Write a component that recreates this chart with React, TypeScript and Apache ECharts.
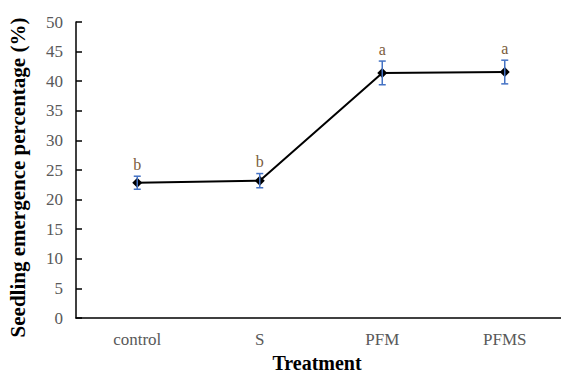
import React, { useEffect, useRef } from "react";
import * as echarts from "echarts";

const categories = ["control", "S", "PFM", "PFMS"];
const means = [22.85, 23.2, 41.4, 41.55];
const errors = [1.1, 1.2, 2.0, 2.0];
const letters = ["b", "b", "a", "a"];
const yTicks = { min: 0, max: 50, interval: 5 };

const serif = "Liberation Serif";

export default function App() {
  const ref = useRef<HTMLDivElement>(null);
  useEffect(() => {
    if (!ref.current) return;
    const chart = echarts.init(ref.current, undefined, { renderer: "svg" });
    const errData = categories.map((c, i) => [i, means[i], errors[i]]);
    chart.setOption({
      animation: false,
      grid: { left: 76, right: -5, top: 22, bottom: 56, containLabel: false, outerBoundsMode: "none" },
      xAxis: {
        type: "category",
        data: categories,
        boundaryGap: true,
        name: "Treatment",
        nameLocation: "middle",
        nameGap: 35,
        nameTextStyle: { fontFamily: serif, fontWeight: "bold", fontSize: 20, lineHeight: 18, color: "#000", padding: [0, 8, 0, 0] },
        axisLine: { lineStyle: { color: "#000", width: 1.5 } },
        axisTick: { inside: true, length: 5, lineStyle: { color: "#000", width: 1.5 } },
        axisLabel: { fontFamily: serif, fontSize: 17, color: "#595959", margin: 13 },
        splitLine: { show: false },
      },
      yAxis: {
        type: "value",
        min: yTicks.min,
        max: yTicks.max,
        interval: yTicks.interval,
        name: "Seedling emergence percentage (%)",
        nameLocation: "middle",
        nameGap: 48,
        nameTextStyle: { fontFamily: serif, fontWeight: "bold", fontSize: 21, color: "#000", padding: [0, 15, 0, 0] },
        axisLine: { show: true, lineStyle: { color: "#000", width: 1.5 } },
        axisTick: { show: true, inside: true, length: 6, lineStyle: { color: "#000", width: 1.5 } },
        axisLabel: { fontFamily: serif, fontSize: 17, color: "#595959", margin: 13 },
        splitLine: { show: false },
      },
      series: [
        {
          type: "line",
          data: means,
          symbol: "diamond",
          symbolSize: 10,
          itemStyle: { color: "#000" },
          lineStyle: { color: "#000", width: 2 },
          z: 2,
        },
        {
          type: "custom",
          data: errData,
          z: 3,
          renderItem: (params: any, api: any) => {
            const x = api.value(0);
            const m = api.value(1);
            const e = api.value(2);
            const top = api.coord([x, m + e]);
            const bot = api.coord([x, m - e]);
            const cw = 3.5;
            const style = { stroke: "#4472C4", lineWidth: 1.5 };
            return {
              type: "group",
              children: [
                { type: "line", shape: { x1: top[0], y1: top[1], x2: bot[0], y2: bot[1] }, style },
                { type: "line", shape: { x1: top[0] - cw, y1: top[1], x2: top[0] + cw, y2: top[1] }, style },
                { type: "line", shape: { x1: bot[0] - cw, y1: bot[1], x2: bot[0] + cw, y2: bot[1] }, style },
                {
                  type: "text",
                  x: top[0],
                  y: top[1] - 12,
                  style: {
                    text: letters[params.dataIndex],
                    fill: "#7a5c3c",
                    font: `16px "${serif}"`,
                    align: "center",
                    verticalAlign: "middle",
                  },
                },
              ],
            };
          },
        },
      ],
    });
    return () => chart.dispose();
  }, []);
  return <div ref={ref} style={{ width: 561, height: 374, position: "absolute", left: 0, top: 0 }} />;
}
